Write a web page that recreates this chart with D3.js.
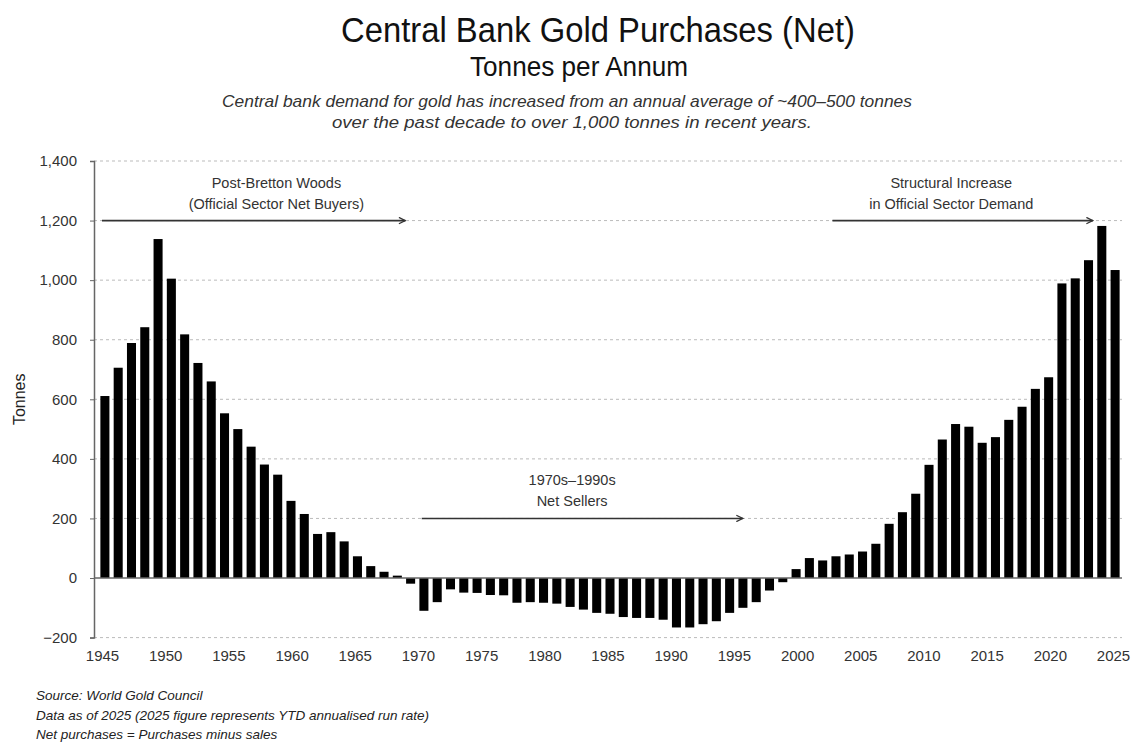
<!DOCTYPE html>
<html>
<head>
<meta charset="utf-8">
<script src="https://cdn.jsdelivr.net/npm/d3@7"></script>
<style>
  body { margin: 0; background: #fff; }
  text { font-family: "Liberation Sans", Arial, sans-serif; }
</style>
</head>
<body>
<div id="chart"></div>
<script>
// net central bank purchases, tonnes (one bar per period, left to right)
var netTonnes = [
  611, 706, 789, 842, 1138, 1005, 818, 722, 660, 553,
  500, 441, 381, 347, 259, 215, 148, 154, 123, 73,
  40, 21, 8, -19, -110, -81, -38, -49, -50, -57,
  -58, -83, -81, -83, -86, -97, -106, -117, -120, -131,
  -134, -134, -140, -166, -166, -155, -145, -117, -100, -81,
  -42, -14, 30, 67, 59, 73, 79, 89, 115, 182,
  221, 283, 380, 465, 517, 508, 454, 473, 531, 575,
  635, 674, 989, 1006, 1067, 1182, 1034
];
var yearLabels = [1945, 1950, 1955, 1960, 1965, 1970, 1975, 1980, 1985, 1990, 1995, 2000, 2005, 2010, 2015, 2020, 2025];
var yTicks = [-200, 0, 200, 400, 600, 800, 1000, 1200, 1400];

// annotation arrows: from / to year, level in tonnes, two text lines, label year
var arrowFrom  = [1945, 1970.3, 2002.8];
var arrowTo    = [1969, 1995.7, 2023.4];
var arrowLevel = [1200, 200, 1200];
var arrowLabelYear = [1958.8, 1982.2, 2012.2];
var arrowLines = [
  ["Post-Bretton Woods", "(Official Sector Net Buyers)"],
  ["1970s\u20131990s", "Net Sellers"],
  ["Structural Increase", "in Official Sector Demand"]
];

var subtitleLines = [
  "Central bank demand for gold has increased from an annual average of ~400\u2013500 tonnes",
  "over the past decade to over 1,000 tonnes in recent years."
];

var footnotes = [
  "Source: World Gold Council",
  "Data as of 2025 (2025 figure represents YTD annualised run rate)",
  "Net purchases = Purchases minus sales"
];

var W = 1134, H = 742;
var svg = d3.select("#chart").append("svg").attr("width", W).attr("height", H);

var plotLeft = 94, plotRight = 1122;
var y = d3.scaleLinear().domain([-200, 1400]).range([637.6, 161]);
var xYear = d3.scaleLinear().domain([1945, 2025]).range([102, 1113]);
var step = (1113 - 107) / (netTonnes.length - 1);
var xBar = d3.scaleBand()
  .domain(d3.range(netTonnes.length))
  .range([107 - step / 2, 1113 + step / 2])
  .paddingInner(0.32);

// titles
svg.append("text").attr("x", 598).attr("y", 42).attr("text-anchor", "middle")
  .attr("font-size", 35).attr("fill", "#111")
  .attr("textLength", 514).attr("lengthAdjust", "spacingAndGlyphs")
  .text("Central Bank Gold Purchases (Net)");
svg.append("text").attr("x", 579).attr("y", 76).attr("text-anchor", "middle")
  .attr("font-size", 27).attr("fill", "#111")
  .attr("textLength", 218).attr("lengthAdjust", "spacingAndGlyphs")
  .text("Tonnes per Annum");
svg.append("text").attr("x", 567).attr("y", 107).attr("text-anchor", "middle")
  .attr("font-size", 17).attr("font-style", "italic").attr("fill", "#333")
  .attr("textLength", 690).attr("lengthAdjust", "spacingAndGlyphs")
  .text(subtitleLines[0]);
svg.append("text").attr("x", 572).attr("y", 128).attr("text-anchor", "middle")
  .attr("font-size", 17).attr("font-style", "italic").attr("fill", "#333")
  .attr("textLength", 480).attr("lengthAdjust", "spacingAndGlyphs")
  .text(subtitleLines[1]);

// gridlines
svg.append("g").selectAll("line")
  .data(yTicks.filter(function(d) { return d !== 0; }))
  .join("line")
    .attr("x1", plotLeft).attr("x2", plotRight)
    .attr("y1", function(d) { return y(d); }).attr("y2", function(d) { return y(d); })
    .attr("stroke", "#bbb").attr("stroke-width", 1).attr("stroke-dasharray", "3,3");

// y axis
var yAxis = svg.append("g")
  .attr("transform", "translate(" + plotLeft + ",0)")
  .call(d3.axisLeft(y).tickValues(yTicks).tickSize(4).tickPadding(13)
    .tickFormat(d3.format(",")));
yAxis.select(".domain").attr("stroke", "#666").attr("stroke-width", 1.5);
yAxis.selectAll(".tick line").attr("stroke", "#666");
yAxis.selectAll("text").attr("font-size", 15).attr("fill", "#333")
  .attr("font-family", "Liberation Sans, Arial, sans-serif");

svg.append("text")
  .attr("transform", "translate(21," + y(600) + ") rotate(-90)")
  .attr("text-anchor", "middle").attr("dominant-baseline", "middle")
  .attr("font-size", 16).attr("fill", "#222").text("Tonnes");

// bars
svg.append("g").selectAll("rect")
  .data(netTonnes)
  .join("rect")
    .attr("x", function(d, i) { return xBar(i); })
    .attr("width", xBar.bandwidth())
    .attr("y", function(d) { return y(Math.max(0, d)); })
    .attr("height", function(d) { return Math.abs(y(d) - y(0)); })
    .attr("fill", "#000");

// zero line
svg.append("line")
  .attr("x1", plotLeft).attr("x2", plotRight)
  .attr("y1", y(0)).attr("y2", y(0))
  .attr("stroke", "#666").attr("stroke-width", 1.5);

// x axis labels
var xAxis = svg.append("g")
  .attr("transform", "translate(0," + y(-200) + ")")
  .call(d3.axisBottom(xYear).tickValues(yearLabels).tickSize(0).tickPadding(13)
    .tickFormat(d3.format("d")));
xAxis.select(".domain").remove();
xAxis.selectAll("text").attr("font-size", 15).attr("fill", "#333")
  .attr("font-family", "Liberation Sans, Arial, sans-serif");

// arrows
svg.append("defs").append("marker")
  .attr("id", "arr").attr("viewBox", "0 0 10 10").attr("refX", 9).attr("refY", 5)
  .attr("markerWidth", 8).attr("markerHeight", 8).attr("markerUnits", "userSpaceOnUse")
  .attr("orient", "auto")
  .append("path").attr("d", "M1,1 L9,5 L1,9").attr("fill", "none")
  .attr("stroke", "#333").attr("stroke-width", 1.6);

var ann = svg.append("g");
arrowFrom.forEach(function(f, i) {
  ann.append("line")
    .attr("x1", xYear(f)).attr("x2", xYear(arrowTo[i]))
    .attr("y1", y(arrowLevel[i])).attr("y2", y(arrowLevel[i]))
    .attr("stroke", "#333").attr("stroke-width", 1.6)
    .attr("marker-end", "url(#arr)");
  arrowLines[i].forEach(function(line, j) {
    ann.append("text")
      .attr("x", xYear(arrowLabelYear[i]))
      .attr("y", y(arrowLevel[i]) - 33 + j * 21)
      .attr("text-anchor", "middle").attr("font-size", 14.5).attr("fill", "#333")
      .text(line);
  });
});

// footnotes
svg.append("g").selectAll("text")
  .data(footnotes)
  .join("text")
    .attr("x", 36).attr("y", function(d, i) { return 700 + i * 19.5; })
    .attr("font-size", 13.5).attr("font-style", "italic").attr("fill", "#222")
    .text(function(d) { return d; });
</script>
</body>
</html>
